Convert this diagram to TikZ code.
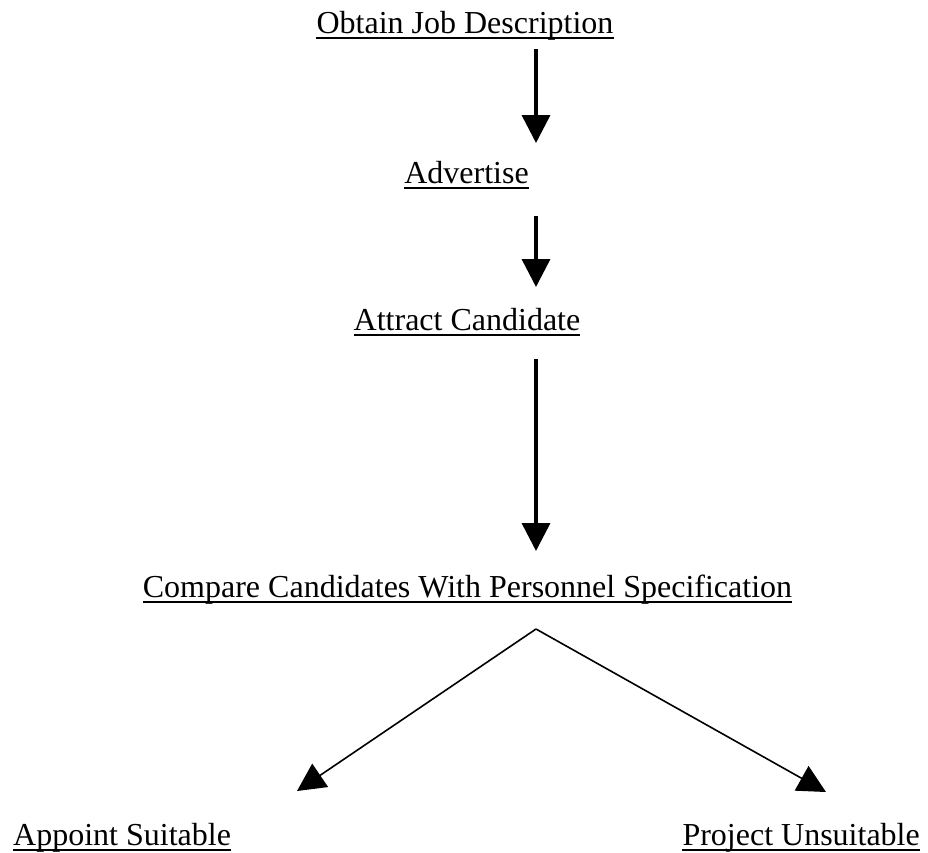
\documentclass[tikz,border=0pt]{standalone}
\usepackage{fontspec}
\setmainfont{Liberation Serif}
\usetikzlibrary{arrows.meta}
\begin{document}
\begin{tikzpicture}[x=1pt,y=-1pt,
  stage/.style={inner sep=0pt, anchor=base,
    font=\fontsize{32}{38}\selectfont},
  rule/.style={line width=2pt},
  flow/.style={line width=3.5pt, -{Triangle[length=28pt,width=28pt]}},
  branch/.style={line width=1.6pt, -{Triangle[length=28pt,width=28pt]}}]
  \useasboundingbox (0,0) rectangle (928,852);

  % process stages
  \node[stage] (job) at (465,33)  {Obtain Job Description};
  \node[stage] (adv) at (466.5,183) {Advertise};
  \node[stage] (att) at (467,330) {Attract Candidate};
  \node[stage] (cmp) at (467.5,597) {Compare Candidates With Personnel Specification};
  \node[stage, anchor=base west] (app) at (13,845)  {Appoint Suitable};
  \node[stage, anchor=base east] (prj) at (920,845) {Project Unsuitable};

  % underline every stage label
  \foreach \n in {job,adv,att,cmp,app,prj}
    \draw[rule] ([yshift=-5pt]\n.base west) -- ([yshift=-5pt]\n.base east);

  % connector end points
  \coordinate (s1) at (536,49);  \coordinate (e1) at (536,143);
  \coordinate (s2) at (536,216); \coordinate (e2) at (536,287);
  \coordinate (s3) at (536,359); \coordinate (e3) at (536,551);
  \coordinate (apex) at (536,629);
  \coordinate (eL) at (297,791);
  \coordinate (eR) at (826,792);

  \draw[flow] (s1) -- (e1);
  \draw[flow] (s2) -- (e2);
  \draw[flow] (s3) -- (e3);
  \draw[branch] (apex) -- (eL);
  \draw[branch] (apex) -- (eR);
\end{tikzpicture}
\end{document}
